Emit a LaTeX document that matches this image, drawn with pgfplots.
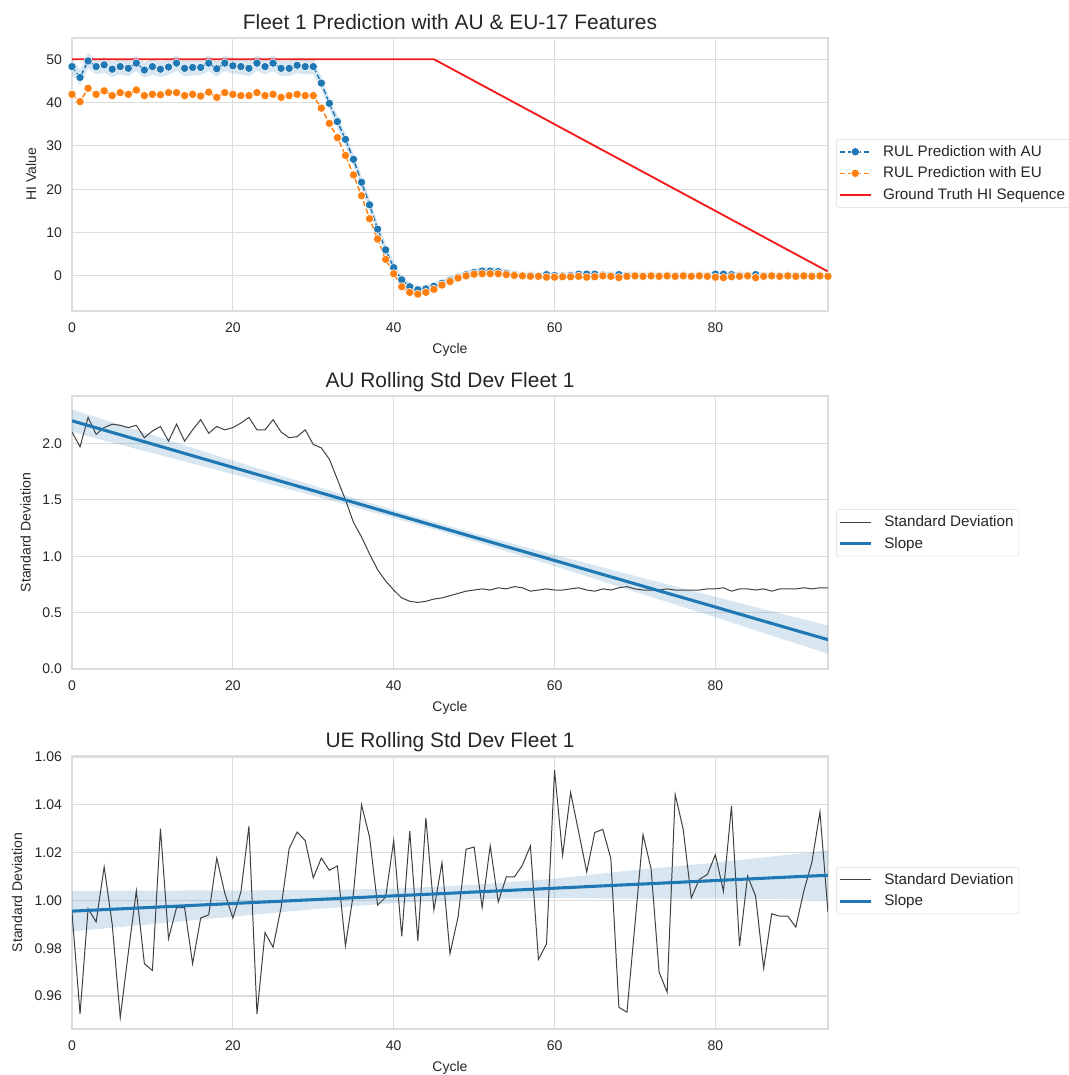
\documentclass[border=0pt]{standalone}
\usepackage{fontspec}
\setmainfont{Liberation Sans}
\usepackage{pgfplots}
\pgfplotsset{compat=1.18}
\usepackage{pgfplotstable}
\usepgfplotslibrary{fillbetween}

\definecolor{tabblue}{HTML}{1F77B4}
\definecolor{taborange}{HTML}{FF7F0E}
\definecolor{gtred}{HTML}{F21C1C}
\definecolor{gridgray}{HTML}{DCDCDC}
\definecolor{txt}{HTML}{262626}

\pgfplotstableread{
x au eu lo hi
0 48.3 41.9 46.5 50.1
1 45.8 40.2 44.0 47.6
2 49.6 43.3 47.8 51.4
3 48.3 41.9 46.5 50.1
4 48.7 42.7 46.9 50.5
5 47.7 41.6 45.9 49.5
6 48.3 42.3 46.5 50.1
7 47.9 41.9 46.1 49.7
8 49.1 42.9 47.3 50.9
9 47.5 41.6 45.7 49.3
10 48.3 41.9 46.5 50.1
11 47.7 41.8 45.9 49.5
12 48.2 42.3 46.4 50.0
13 49.1 42.3 47.3 50.9
14 47.9 41.6 46.1 49.7
15 48.1 41.9 46.3 49.9
16 48.1 41.5 46.3 49.9
17 49.1 42.4 47.3 50.9
18 47.8 41.2 46.0 49.6
19 49.1 42.3 47.3 50.9
20 48.5 41.9 46.7 50.3
21 48.3 41.6 46.5 50.1
22 47.9 41.6 46.1 49.7
23 49.1 42.3 47.3 50.9
24 48.3 41.6 46.5 50.1
25 49.1 41.9 47.3 50.9
26 47.9 41.2 46.1 49.7
27 47.9 41.6 46.1 49.7
28 48.6 41.9 46.8 50.4
29 48.3 41.6 46.5 50.1
30 48.3 41.6 46.5 50.1
31 44.5 38.7 43.1 45.9
32 39.8 35.2 38.4 41.2
33 35.6 31.9 34.2 37.0
34 31.5 27.8 30.1 32.9
35 26.9 23.3 25.5 28.3
36 21.6 18.5 20.2 23.0
37 16.4 13.2 15.0 17.8
38 10.8 8.5 9.4 12.2
39 6.0 3.8 4.6 7.4
40 1.9 0.5 0.5 3.3
41 -0.9 -2.5 -1.8 0.0
42 -2.5 -3.8 -3.4 -1.6
43 -3.2 -4.2 -4.1 -2.3
44 -3.0 -3.8 -3.9 -2.1
45 -2.4 -3.1 -3.3 -1.5
46 -1.7 -2.1 -2.6 -0.8
47 -1.0 -1.3 -1.9 -0.1
48 -0.3 -0.5 -1.2 0.6
49 0.3 0.0 -0.6 1.2
50 0.8 0.4 -0.1 1.7
51 1.1 0.5 0.2 2.0
52 1.1 0.5 0.2 2.0
53 1.0 0.5 0.1 1.9
54 0.6 0.3 -0.3 1.5
55 0.3 0.1 -0.4 1.0
56 0.1 0.0 -0.6 0.8
57 0.1 -0.1 -0.6 0.8
58 0.0 -0.1 -0.7 0.7
59 0.3 -0.3 -0.4 1.0
60 0.1 -0.3 -0.6 0.8
61 0.0 -0.2 -0.7 0.7
62 0.1 -0.2 -0.6 0.8
63 0.4 -0.1 -0.3 1.1
64 0.4 -0.3 -0.3 1.1
65 0.4 -0.2 -0.3 1.1
66 0.2 0.0 -0.5 0.9
67 0.1 -0.1 -0.6 0.8
68 0.3 -0.4 -0.4 1.0
69 0.1 -0.1 -0.6 0.8
70 0.1 0.0 -0.6 0.8
71 0.0 -0.1 -0.7 0.7
72 0.1 0.0 -0.6 0.8
73 0.0 -0.1 -0.7 0.7
74 0.1 0.0 -0.6 0.8
75 0.0 -0.1 -0.7 0.7
76 0.1 0.0 -0.6 0.8
77 0.0 -0.1 -0.7 0.7
78 0.1 0.0 -0.6 0.8
79 0.0 -0.1 -0.7 0.7
80 0.4 -0.3 -0.3 1.1
81 0.4 -0.4 -0.3 1.1
82 0.3 -0.2 -0.4 1.0
83 0.1 -0.1 -0.6 0.8
84 0.1 0.0 -0.6 0.8
85 0.3 -0.4 -0.4 1.0
86 0.0 -0.1 -0.7 0.7
87 0.1 0.0 -0.6 0.8
88 0.0 -0.1 -0.7 0.7
89 0.1 0.0 -0.6 0.8
90 0.0 -0.1 -0.7 0.7
91 0.1 0.0 -0.6 0.8
92 0.0 -0.1 -0.7 0.7
93 0.1 0.0 -0.6 0.8
94 0.0 -0.1 -0.7 0.7
}\topdata

\pgfplotstableread{
x gt
0 50
45 50
94 1
}\gtdata

\pgfplotstableread{
x sd
0 2.10
1 1.97
2 2.23
3 2.08
4 2.14
5 2.17
6 2.16
7 2.14
8 2.16
9 2.05
10 2.11
11 2.15
12 2.02
13 2.17
14 2.02
15 2.12
16 2.21
17 2.09
18 2.15
19 2.12
20 2.14
21 2.18
22 2.23
23 2.12
24 2.12
25 2.21
26 2.10
27 2.05
28 2.06
29 2.12
30 1.99
31 1.96
32 1.86
33 1.68
34 1.50
35 1.30
36 1.17
37 1.02
38 0.88
39 0.78
40 0.70
41 0.63
42 0.60
43 0.59
44 0.60
45 0.62
46 0.63
47 0.65
48 0.67
49 0.69
50 0.70
51 0.71
52 0.70
53 0.72
54 0.71
55 0.73
56 0.72
57 0.69
58 0.70
59 0.71
60 0.70
61 0.70
62 0.71
63 0.72
64 0.70
65 0.69
66 0.71
67 0.70
68 0.72
69 0.73
70 0.71
71 0.70
72 0.70
73 0.70
74 0.71
75 0.70
76 0.70
77 0.70
78 0.70
79 0.71
80 0.71
81 0.72
82 0.69
83 0.71
84 0.71
85 0.70
86 0.71
87 0.69
88 0.71
89 0.71
90 0.71
91 0.72
92 0.71
93 0.72
94 0.72
}\audata

\pgfplotstableread{
x c lo hi
0 2.200 2.100 2.300
10 1.994 1.914 2.074
20 1.787 1.727 1.847
30 1.581 1.536 1.626
40 1.374 1.339 1.409
47 1.230 1.197 1.263
50 1.168 1.133 1.203
60 0.962 0.912 1.012
70 0.755 0.685 0.825
80 0.549 0.459 0.639
90 0.342 0.227 0.457
94 0.260 0.135 0.385
}\aureg

\pgfplotstableread{
x sd
0 0.995
1 0.9525
2 0.9965
3 0.991
4 1.014
5 0.990
6 0.951
7 0.978
8 1.004
9 0.9735
10 0.9707
11 1.030
12 0.984
13 0.997
14 0.997
15 0.9735
16 0.9926
17 0.994
18 1.0177
19 1.003
20 0.9926
21 1.0035
22 1.031
23 0.9525
24 0.9865
25 0.9804
26 0.997
27 1.0217
28 1.0286
29 1.025
30 1.0094
31 1.0177
32 1.0126
33 1.0144
34 0.981
35 1.003
36 1.040
37 1.0265
38 0.998
39 1.0014
40 1.025
41 0.985
42 1.029
43 0.983
44 1.0345
45 0.996
46 1.0158
47 0.9777
48 0.993
49 1.0214
50 1.0223
51 0.997
52 1.0228
53 0.9993
54 1.0098
55 1.0098
56 1.0147
57 1.0228
58 0.9753
59 0.9818
60 1.0545
61 1.0189
62 1.0451
63 1.0286
64 1.0119
65 1.0284
66 1.0297
67 1.0175
68 0.9553
69 0.9532
70 0.990
71 1.0275
72 1.0133
73 0.970
74 0.9616
75 1.0443
76 1.0297
77 1.001
78 1.0088
79 1.0108
80 1.0191
81 1.0038
82 1.0395
83 0.9809
84 1.0102
85 1.0018
86 0.9716
87 0.9944
88 0.9934
89 0.9934
90 0.9888
91 1.004
92 1.016
93 1.037
94 0.995
}\uedata

\pgfplotstableread{
x c lo hi
0 0.9955 0.9870 1.0040
10 0.9971 0.9901 1.0041
20 0.9987 0.9932 1.0042
30 1.0003 0.9963 1.0043
40 1.0019 0.9989 1.0049
47 1.0030 1.0000 1.0060
50 1.0035 1.0005 1.0065
60 1.0051 1.0011 1.0091
70 1.0067 1.0007 1.0127
80 1.0083 1.0008 1.0158
90 1.0099 1.0004 1.0194
94 1.0105 1.0000 1.0210
}\uereg

\pgfplotsset{
  sb/.style={
    scale only axis, width=567pt, height=204.75pt,
    anchor=south west,
    xmin=0, xmax=94,
    xtick={0,20,40,60,80},
    axis line style={draw=gridgray, line width=0.9pt},
    grid=major, major grid style={draw=gridgray, line width=0.9pt},
    tick style={draw=none},
    /pgf/number format/assume math mode=true,
    ticklabel style={font=\fontsize{10.5}{12}\selectfont, text=txt},
    xticklabel style={yshift=-5pt},
    yticklabel style={xshift=-4pt},
    every axis title/.style={at={(0.5,1)}, anchor=base, yshift=6pt, font=\fontsize{15.7}{18}\selectfont, text=txt},
    every axis x label/.style={at={(axis description cs:0.5,0)}, anchor=base, yshift=-32pt, font=\fontsize{10.5}{12}\selectfont, text=txt},
    xlabel={Cycle},
    legend cell align=left,
    legend image code/.code={\draw[mark repeat=2,mark phase=2,##1] plot coordinates {(0pt,0pt) (11.6pt,0pt) (23.2pt,0pt)};},
    legend style={anchor=north west, draw=black!15, rounded corners=2pt, fill=white,
      font=\fontsize{11.4}{13}\selectfont, text=txt, inner xsep=2pt, inner ysep=2.5pt, row sep=2.4pt,
      /tikz/every odd column/.append style={column sep=6.5pt}},
  },
  ylab/.style={every axis y label/.style={at={(axis description cs:#1,0.5)}, rotate=90, anchor=base, font=\fontsize{10.5}{12}\selectfont, text=txt}},
}

\begin{document}
\begin{tikzpicture}
% ---------- Top ----------
\begin{axis}[sb, at={(54pt,573pt)},
  ymin=-8.1, ymax=54.9, ytick={0,10,20,30,40,50},
  ylab=-0.0476, ylabel={HI Value},
  title={Fleet 1 Prediction with AU \& EU-17 Features},
  legend style={at={(1.0106,0.63)}},
]
\addplot[name path=tophi, draw=none, forget plot] table[x=x,y=hi]{\topdata};
\addplot[name path=toplo, draw=none, forget plot] table[x=x,y=lo]{\topdata};
\addplot[fill=tabblue, fill opacity=0.18, draw=none, forget plot] fill between[of=tophi and toplo];
\addplot[tabblue, line width=1.1pt, dash pattern=on 4pt off 2pt, mark=*, mark size=3.1pt,
  mark options={solid, fill=tabblue, draw=white, line width=0.4pt}] table[x=x,y=au]{\topdata};
\addlegendentry{RUL Prediction with AU}
\addplot[taborange, line width=1.1pt, dash pattern=on 4pt off 2pt, mark=*, mark size=3.1pt,
  mark options={solid, fill=taborange, draw=white, line width=0.4pt}] table[x=x,y=eu]{\topdata};
\addlegendentry{RUL Prediction with EU}
\addplot[gtred, line width=1.4pt] table[x=x,y=gt]{\gtdata};
\addlegendentry{Ground Truth HI Sequence}
\end{axis}

% ---------- Middle ----------
\begin{axis}[sb, at={(54pt,304.5pt)},
  ymin=0, ymax=2.42, ytick={0,0.5,1.0,1.5,2.0},
  yticklabel style={/pgf/number format/.cd, fixed, fixed zerofill, precision=1},
  ylab=-0.0547, ylabel={Standard Deviation},
  title={AU Rolling Std Dev Fleet 1},
  legend style={at={(1.0106,0.585)}},
]
\addplot[name path=auhi, draw=none, forget plot] table[x=x,y=hi]{\aureg};
\addplot[name path=aulo, draw=none, forget plot] table[x=x,y=lo]{\aureg};
\addplot[fill=tabblue, fill opacity=0.18, draw=none, forget plot] fill between[of=auhi and aulo];
\addplot[black!75, line width=0.75pt] table[x=x,y=sd]{\audata};
\addlegendentry{Standard Deviation}
\addplot[tabblue, line width=2.3pt] table[x=x,y=c]{\aureg};
\addlegendentry{Slope}
\end{axis}

% ---------- Bottom ----------
\begin{axis}[sb, at={(54pt,34.5pt)},
  ymin=0.9462, ymax=1.0604, ytick={0.96,0.98,1.00,1.02,1.04,1.06},
  yticklabel style={/pgf/number format/.cd, fixed, fixed zerofill, precision=2},
  ylab=-0.0661, ylabel={Standard Deviation},
  title={UE Rolling Std Dev Fleet 1},
  legend style={at={(1.0106,0.593)}},
]
\addplot[name path=uehi, draw=none, forget plot] table[x=x,y=hi]{\uereg};
\addplot[name path=uelo, draw=none, forget plot] table[x=x,y=lo]{\uereg};
\addplot[fill=tabblue, fill opacity=0.18, draw=none, forget plot] fill between[of=uehi and uelo];
\addplot[black!75, line width=0.75pt] table[x=x,y=sd]{\uedata};
\addlegendentry{Standard Deviation}
\addplot[tabblue, line width=2.3pt] table[x=x,y=c]{\uereg};
\addlegendentry{Slope}
\end{axis}

\pgfresetboundingbox
\path[use as bounding box] (0,0) rectangle (801pt,806.25pt);
\end{tikzpicture}
\end{document}
